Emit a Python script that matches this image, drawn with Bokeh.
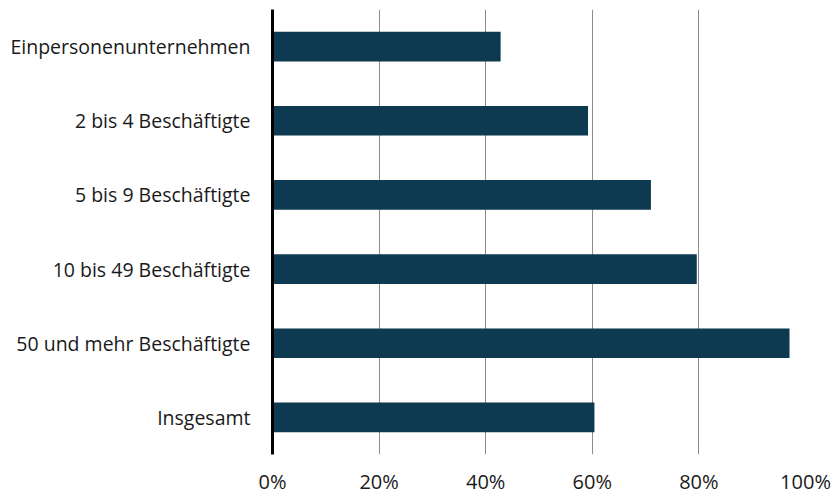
from bokeh.plotting import figure
from bokeh.models import Range1d, FactorRange, FixedTicker, PrintfTickFormatter, ColumnDataSource
from bokeh.embed import file_html
from bokeh.resources import INLINE

categories = ["Einpersonenunternehmen", "2 bis 4 Beschäftigte", "5 bis 9 Beschäftigte",
              "10 bis 49 Beschäftigte", "50 und mehr Beschäftigte", "Insgesamt"]
values = [42.8, 59.2, 71.0, 79.6, 97.0, 60.4]
x_ticks = [0, 20, 40, 60, 80, 100]

src = ColumnDataSource(dict(cat=categories, val=values))

p = figure(width=837, height=498, output_backend="svg", toolbar_location=None,
           y_range=FactorRange(*reversed(categories), range_padding=0),
           x_range=Range1d(0, 100),
           min_border_left=272, min_border_right=32, min_border_top=9, min_border_bottom=44)
p.hbar(y="cat", right="val", left=0, height=0.4, source=src, color="#0d3a50", line_color=None)

p.outline_line_color = None
p.background_fill_color = "white"
p.border_fill_color = "white"
p.ygrid.grid_line_color = None
p.xgrid.grid_line_color = "#8c8c8c"
p.xgrid.grid_line_width = 1
p.xaxis.ticker = FixedTicker(ticks=x_ticks)
p.xaxis.formatter = PrintfTickFormatter(format="%d%%")
p.xaxis.axis_line_color = None
p.xaxis.major_tick_line_color = None
p.xaxis.minor_tick_line_color = None
p.xaxis.major_tick_out = 0
p.xaxis.major_tick_in = 0
p.xaxis.major_label_standoff = 13
p.xaxis.major_label_text_font = "Open Sans"
p.xaxis.major_label_text_font_size = "20px"
p.xaxis.major_label_text_color = "#1a1a1a"

p.yaxis.axis_line_color = "black"
p.yaxis.axis_line_width = 3
p.yaxis.major_tick_line_color = None
p.yaxis.minor_tick_line_color = None
p.yaxis.major_tick_out = 0
p.yaxis.major_tick_in = 0
p.yaxis.major_label_standoff = 22
p.yaxis.major_label_text_font = "Open Sans"
p.yaxis.major_label_text_font_size = "19.5px"
p.yaxis.major_label_text_color = "#1a1a1a"

open("out.html", "w").write(file_html(p, INLINE))
